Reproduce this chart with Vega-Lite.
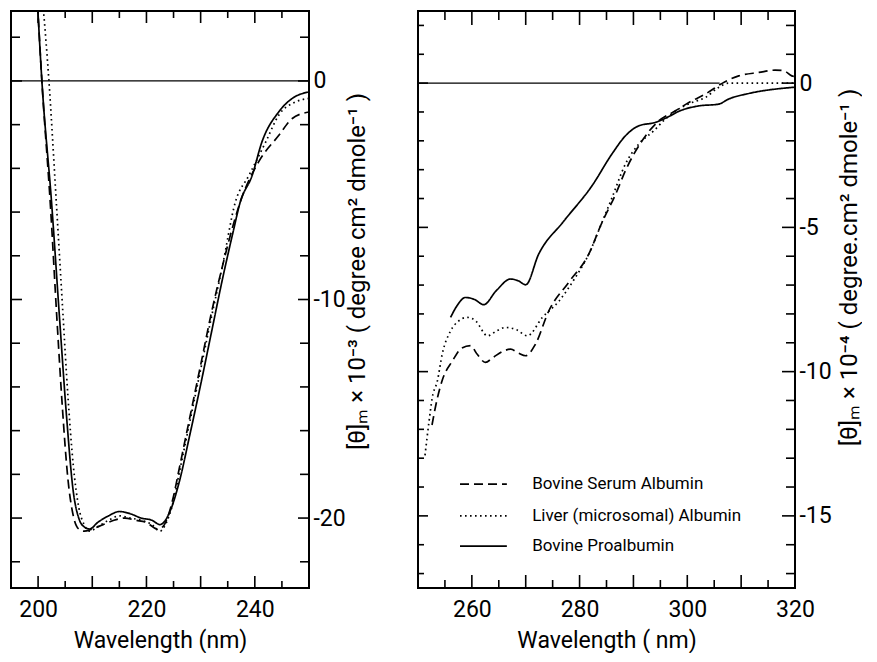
{
  "$schema": "https://vega.github.io/schema/vega-lite/v6.json",
  "padding": {"left": 9, "top": 9, "right": 0, "bottom": 0},
  "background": "white",
  "config": {
    "view": {"stroke": "black", "strokeWidth": 2},
    "font": "Roboto",
    "rule": {"color": "black", "strokeWidth": 1.6},
    "axis": {
      "labelFont": "Roboto", "labelFontSize": 23, "labelColor": "black",
      "ticks": false, "domain": false, "grid": false,
      "titleFont": "Roboto", "titleFontSize": 23, "titleFontWeight": "normal", "titleColor": "black",
      "labelFlush": false, "labelOverlap": false, "labelBound": false
    }
  },
  "datasets": {
    "left": [
      {"series": "Bovine Serum Albumin", "nm": 199.9, "v": 3.5},
      {"series": "Bovine Serum Albumin", "nm": 200.7, "v": 0},
      {"series": "Bovine Serum Albumin", "nm": 202.3, "v": -5.8},
      {"series": "Bovine Serum Albumin", "nm": 203.5, "v": -11.0},
      {"series": "Bovine Serum Albumin", "nm": 204.5, "v": -15.0},
      {"series": "Bovine Serum Albumin", "nm": 205.5, "v": -18.2},
      {"series": "Bovine Serum Albumin", "nm": 206.5, "v": -19.9},
      {"series": "Bovine Serum Albumin", "nm": 207.5, "v": -20.5},
      {"series": "Bovine Serum Albumin", "nm": 208.5, "v": -20.6},
      {"series": "Bovine Serum Albumin", "nm": 210, "v": -20.5},
      {"series": "Bovine Serum Albumin", "nm": 212, "v": -20.3},
      {"series": "Bovine Serum Albumin", "nm": 214, "v": -20.1},
      {"series": "Bovine Serum Albumin", "nm": 216, "v": -20.0},
      {"series": "Bovine Serum Albumin", "nm": 218, "v": -20.1},
      {"series": "Bovine Serum Albumin", "nm": 220, "v": -20.2},
      {"series": "Bovine Serum Albumin", "nm": 222, "v": -20.5},
      {"series": "Bovine Serum Albumin", "nm": 223, "v": -20.4},
      {"series": "Bovine Serum Albumin", "nm": 224, "v": -19.9},
      {"series": "Bovine Serum Albumin", "nm": 225, "v": -19.0},
      {"series": "Bovine Serum Albumin", "nm": 226, "v": -17.8},
      {"series": "Bovine Serum Albumin", "nm": 228, "v": -15.4},
      {"series": "Bovine Serum Albumin", "nm": 230, "v": -13.0},
      {"series": "Bovine Serum Albumin", "nm": 232, "v": -10.6},
      {"series": "Bovine Serum Albumin", "nm": 234, "v": -8.5},
      {"series": "Bovine Serum Albumin", "nm": 236, "v": -6.6},
      {"series": "Bovine Serum Albumin", "nm": 237.3, "v": -5.55},
      {"series": "Bovine Serum Albumin", "nm": 240.7, "v": -3.7},
      {"series": "Bovine Serum Albumin", "nm": 244.4, "v": -2.5},
      {"series": "Bovine Serum Albumin", "nm": 246.85, "v": -1.73},
      {"series": "Bovine Serum Albumin", "nm": 250, "v": -1.42},
      {"series": "Liver (microsomal) Albumin", "nm": 200.9, "v": 3.5},
      {"series": "Liver (microsomal) Albumin", "nm": 202.0, "v": 0},
      {"series": "Liver (microsomal) Albumin", "nm": 203.36, "v": -5.55},
      {"series": "Liver (microsomal) Albumin", "nm": 204.5, "v": -10.3},
      {"series": "Liver (microsomal) Albumin", "nm": 205.5, "v": -14.4},
      {"series": "Liver (microsomal) Albumin", "nm": 206.5, "v": -17.6},
      {"series": "Liver (microsomal) Albumin", "nm": 207.5, "v": -19.5},
      {"series": "Liver (microsomal) Albumin", "nm": 208.5, "v": -20.3},
      {"series": "Liver (microsomal) Albumin", "nm": 209.5, "v": -20.6},
      {"series": "Liver (microsomal) Albumin", "nm": 211, "v": -20.4},
      {"series": "Liver (microsomal) Albumin", "nm": 213, "v": -20.1},
      {"series": "Liver (microsomal) Albumin", "nm": 215, "v": -19.9},
      {"series": "Liver (microsomal) Albumin", "nm": 217, "v": -20.0},
      {"series": "Liver (microsomal) Albumin", "nm": 219, "v": -20.1},
      {"series": "Liver (microsomal) Albumin", "nm": 221, "v": -20.3},
      {"series": "Liver (microsomal) Albumin", "nm": 222.5, "v": -20.6},
      {"series": "Liver (microsomal) Albumin", "nm": 223.5, "v": -20.3},
      {"series": "Liver (microsomal) Albumin", "nm": 225, "v": -19.2},
      {"series": "Liver (microsomal) Albumin", "nm": 226, "v": -18.0},
      {"series": "Liver (microsomal) Albumin", "nm": 228, "v": -15.6},
      {"series": "Liver (microsomal) Albumin", "nm": 230, "v": -13.2},
      {"series": "Liver (microsomal) Albumin", "nm": 232, "v": -10.8},
      {"series": "Liver (microsomal) Albumin", "nm": 234, "v": -8.5},
      {"series": "Liver (microsomal) Albumin", "nm": 236.4, "v": -5.55},
      {"series": "Liver (microsomal) Albumin", "nm": 238.9, "v": -4.33},
      {"series": "Liver (microsomal) Albumin", "nm": 242.0, "v": -2.8},
      {"series": "Liver (microsomal) Albumin", "nm": 244.4, "v": -1.57},
      {"series": "Liver (microsomal) Albumin", "nm": 247.5, "v": -0.96},
      {"series": "Liver (microsomal) Albumin", "nm": 250, "v": -0.8},
      {"series": "Bovine Proalbumin", "nm": 199.9, "v": 3.5},
      {"series": "Bovine Proalbumin", "nm": 200.7, "v": 0},
      {"series": "Bovine Proalbumin", "nm": 202.5, "v": -5.6},
      {"series": "Bovine Proalbumin", "nm": 204, "v": -11.0},
      {"series": "Bovine Proalbumin", "nm": 205.3, "v": -15.5},
      {"series": "Bovine Proalbumin", "nm": 206.5, "v": -18.8},
      {"series": "Bovine Proalbumin", "nm": 207.5, "v": -20.0},
      {"series": "Bovine Proalbumin", "nm": 208.5, "v": -20.4},
      {"series": "Bovine Proalbumin", "nm": 209.5, "v": -20.5},
      {"series": "Bovine Proalbumin", "nm": 211, "v": -20.2},
      {"series": "Bovine Proalbumin", "nm": 213, "v": -19.9},
      {"series": "Bovine Proalbumin", "nm": 215, "v": -19.7},
      {"series": "Bovine Proalbumin", "nm": 217, "v": -19.8},
      {"series": "Bovine Proalbumin", "nm": 219, "v": -20.0},
      {"series": "Bovine Proalbumin", "nm": 221, "v": -20.1},
      {"series": "Bovine Proalbumin", "nm": 222.5, "v": -20.3},
      {"series": "Bovine Proalbumin", "nm": 223.5, "v": -20.1},
      {"series": "Bovine Proalbumin", "nm": 224.5, "v": -19.6},
      {"series": "Bovine Proalbumin", "nm": 226, "v": -18.4},
      {"series": "Bovine Proalbumin", "nm": 228, "v": -16.2},
      {"series": "Bovine Proalbumin", "nm": 230, "v": -13.9},
      {"series": "Bovine Proalbumin", "nm": 232, "v": -11.5},
      {"series": "Bovine Proalbumin", "nm": 234, "v": -9.1},
      {"series": "Bovine Proalbumin", "nm": 236, "v": -6.9},
      {"series": "Bovine Proalbumin", "nm": 237.3, "v": -5.55},
      {"series": "Bovine Proalbumin", "nm": 239.5, "v": -4.33},
      {"series": "Bovine Proalbumin", "nm": 241.3, "v": -2.8},
      {"series": "Bovine Proalbumin", "nm": 244.4, "v": -1.42},
      {"series": "Bovine Proalbumin", "nm": 246.85, "v": -0.81},
      {"series": "Bovine Proalbumin", "nm": 250, "v": -0.5}
    ],
    "right": [
      {"series": "Bovine Serum Albumin", "nm": 252.6, "v": -11.85},
      {"series": "Bovine Serum Albumin", "nm": 253.5, "v": -11.0},
      {"series": "Bovine Serum Albumin", "nm": 254.5, "v": -10.3},
      {"series": "Bovine Serum Albumin", "nm": 256.4, "v": -9.63},
      {"series": "Bovine Serum Albumin", "nm": 258, "v": -9.2},
      {"series": "Bovine Serum Albumin", "nm": 259.75, "v": -9.1},
      {"series": "Bovine Serum Albumin", "nm": 261, "v": -9.4},
      {"series": "Bovine Serum Albumin", "nm": 262.5, "v": -9.68},
      {"series": "Bovine Serum Albumin", "nm": 264, "v": -9.5},
      {"series": "Bovine Serum Albumin", "nm": 265.95, "v": -9.28},
      {"series": "Bovine Serum Albumin", "nm": 267.2, "v": -9.22},
      {"series": "Bovine Serum Albumin", "nm": 268.6, "v": -9.35},
      {"series": "Bovine Serum Albumin", "nm": 270.0, "v": -9.45},
      {"series": "Bovine Serum Albumin", "nm": 271.8, "v": -9.05},
      {"series": "Bovine Serum Albumin", "nm": 274.3, "v": -7.89},
      {"series": "Bovine Serum Albumin", "nm": 278, "v": -6.9},
      {"series": "Bovine Serum Albumin", "nm": 281.7, "v": -5.93},
      {"series": "Bovine Serum Albumin", "nm": 284, "v": -4.9},
      {"series": "Bovine Serum Albumin", "nm": 286.7, "v": -3.85},
      {"series": "Bovine Serum Albumin", "nm": 288.5, "v": -3.04},
      {"series": "Bovine Serum Albumin", "nm": 291.6, "v": -2.0},
      {"series": "Bovine Serum Albumin", "nm": 294.7, "v": -1.31},
      {"series": "Bovine Serum Albumin", "nm": 297.8, "v": -0.96},
      {"series": "Bovine Serum Albumin", "nm": 300.3, "v": -0.67},
      {"series": "Bovine Serum Albumin", "nm": 303.35, "v": -0.38},
      {"series": "Bovine Serum Albumin", "nm": 307.1, "v": 0.06},
      {"series": "Bovine Serum Albumin", "nm": 309.55, "v": 0.25},
      {"series": "Bovine Serum Albumin", "nm": 313.3, "v": 0.37},
      {"series": "Bovine Serum Albumin", "nm": 316.3, "v": 0.45},
      {"series": "Bovine Serum Albumin", "nm": 317.9, "v": 0.43},
      {"series": "Bovine Serum Albumin", "nm": 319.4, "v": 0.25},
      {"series": "Bovine Serum Albumin", "nm": 320, "v": 0.22},
      {"series": "Liver (microsomal) Albumin", "nm": 251.3, "v": -12.9},
      {"series": "Liver (microsomal) Albumin", "nm": 252.0, "v": -11.8},
      {"series": "Liver (microsomal) Albumin", "nm": 252.65, "v": -10.9},
      {"series": "Liver (microsomal) Albumin", "nm": 253.6, "v": -10.32},
      {"series": "Liver (microsomal) Albumin", "nm": 254.5, "v": -9.39},
      {"series": "Liver (microsomal) Albumin", "nm": 256.05, "v": -8.59},
      {"series": "Liver (microsomal) Albumin", "nm": 257.5, "v": -8.25},
      {"series": "Liver (microsomal) Albumin", "nm": 259.15, "v": -8.12},
      {"series": "Liver (microsomal) Albumin", "nm": 260.7, "v": -8.24},
      {"series": "Liver (microsomal) Albumin", "nm": 262.9, "v": -8.76},
      {"series": "Liver (microsomal) Albumin", "nm": 264.5, "v": -8.6},
      {"series": "Liver (microsomal) Albumin", "nm": 266.25, "v": -8.47},
      {"series": "Liver (microsomal) Albumin", "nm": 268.3, "v": -8.55},
      {"series": "Liver (microsomal) Albumin", "nm": 270.3, "v": -8.76},
      {"series": "Liver (microsomal) Albumin", "nm": 273.1, "v": -8.12},
      {"series": "Liver (microsomal) Albumin", "nm": 276.2, "v": -7.55},
      {"series": "Liver (microsomal) Albumin", "nm": 279, "v": -6.8},
      {"series": "Liver (microsomal) Albumin", "nm": 281.7, "v": -5.93},
      {"series": "Liver (microsomal) Albumin", "nm": 284, "v": -4.9},
      {"series": "Liver (microsomal) Albumin", "nm": 286.05, "v": -3.96},
      {"series": "Liver (microsomal) Albumin", "nm": 288.5, "v": -2.81},
      {"series": "Liver (microsomal) Albumin", "nm": 291.0, "v": -2.11},
      {"series": "Liver (microsomal) Albumin", "nm": 293.8, "v": -1.65},
      {"series": "Liver (microsomal) Albumin", "nm": 295.9, "v": -1.25},
      {"series": "Liver (microsomal) Albumin", "nm": 298.4, "v": -0.9},
      {"series": "Liver (microsomal) Albumin", "nm": 300.9, "v": -0.67},
      {"series": "Liver (microsomal) Albumin", "nm": 303.35, "v": -0.5},
      {"series": "Liver (microsomal) Albumin", "nm": 305.8, "v": -0.15},
      {"series": "Liver (microsomal) Albumin", "nm": 307.7, "v": 0},
      {"series": "Liver (microsomal) Albumin", "nm": 320, "v": 0},
      {"series": "Bovine Proalbumin", "nm": 256.05, "v": -8.12},
      {"series": "Bovine Proalbumin", "nm": 257.3, "v": -7.7},
      {"series": "Bovine Proalbumin", "nm": 258.8, "v": -7.43},
      {"series": "Bovine Proalbumin", "nm": 260.5, "v": -7.5},
      {"series": "Bovine Proalbumin", "nm": 262.2, "v": -7.68},
      {"series": "Bovine Proalbumin", "nm": 264.5, "v": -7.2},
      {"series": "Bovine Proalbumin", "nm": 267.2, "v": -6.79},
      {"series": "Bovine Proalbumin", "nm": 268.6, "v": -6.85},
      {"series": "Bovine Proalbumin", "nm": 270.0, "v": -6.99},
      {"series": "Bovine Proalbumin", "nm": 272.4, "v": -5.93},
      {"series": "Bovine Proalbumin", "nm": 277, "v": -4.8},
      {"series": "Bovine Proalbumin", "nm": 282.3, "v": -3.56},
      {"series": "Bovine Proalbumin", "nm": 286.0, "v": -2.46},
      {"series": "Bovine Proalbumin", "nm": 288.5, "v": -1.83},
      {"series": "Bovine Proalbumin", "nm": 291.0, "v": -1.48},
      {"series": "Bovine Proalbumin", "nm": 294.1, "v": -1.36},
      {"series": "Bovine Proalbumin", "nm": 296.25, "v": -1.19},
      {"series": "Bovine Proalbumin", "nm": 298.4, "v": -0.98},
      {"series": "Bovine Proalbumin", "nm": 302.1, "v": -0.79},
      {"series": "Bovine Proalbumin", "nm": 305.8, "v": -0.73},
      {"series": "Bovine Proalbumin", "nm": 307.7, "v": -0.55},
      {"series": "Bovine Proalbumin", "nm": 311.4, "v": -0.36},
      {"series": "Bovine Proalbumin", "nm": 319.4, "v": -0.15},
      {"series": "Bovine Proalbumin", "nm": 320, "v": -0.14}
    ],
    "zeroL": [{"a": 195, "b": 250, "v": 0}],
    "zeroR": [{"a": 250, "b": 306, "v": 0}],
    "legend": [
      {"series": "Bovine Serum Albumin", "a": 257.8, "b": 266.5, "t": 271.2, "v": -13.9},
      {"series": "Liver (microsomal) Albumin", "a": 257.8, "b": 266.5, "t": 271.2, "v": -15.0},
      {"series": "Bovine Proalbumin", "a": 257.8, "b": 266.5, "t": 271.2, "v": -16.05}
    ],
    "tickLx": [
      {"t": 200, "k": "maj"}, {"t": 205, "k": "min"}, {"t": 210, "k": "maj"},
      {"t": 215, "k": "min"}, {"t": 220, "k": "maj"}, {"t": 225, "k": "min"}, {"t": 230, "k": "maj"},
      {"t": 235, "k": "min"}, {"t": 240, "k": "maj"}, {"t": 245, "k": "min"}
    ],
    "tickLy": [
      {"t": -22, "k": "min"}, {"t": -20, "k": "maj"}, {"t": -18, "k": "min"}, {"t": -16, "k": "min"},
      {"t": -14, "k": "min"}, {"t": -12, "k": "min"}, {"t": -10, "k": "maj"}, {"t": -8, "k": "min"},
      {"t": -6, "k": "min"}, {"t": -4, "k": "min"}, {"t": -2, "k": "min"}, {"t": 0, "k": "maj"},
      {"t": 2, "k": "min"}
    ],
    "tickRx": [
      {"t": 255, "k": "min"}, {"t": 260, "k": "maj"}, {"t": 265, "k": "min"}, {"t": 270, "k": "maj"},
      {"t": 275, "k": "min"}, {"t": 280, "k": "maj"}, {"t": 285, "k": "min"}, {"t": 290, "k": "maj"},
      {"t": 295, "k": "min"}, {"t": 300, "k": "maj"}, {"t": 305, "k": "min"}, {"t": 310, "k": "maj"},
      {"t": 315, "k": "min"}
    ],
    "tickRy": [
      {"t": -17, "k": "min"}, {"t": -16, "k": "min"}, {"t": -15, "k": "maj"}, {"t": -14, "k": "min"},
      {"t": -13, "k": "min"}, {"t": -12, "k": "min"}, {"t": -11, "k": "min"}, {"t": -10, "k": "maj"},
      {"t": -9, "k": "min"}, {"t": -8, "k": "min"}, {"t": -7, "k": "min"}, {"t": -6, "k": "min"},
      {"t": -5, "k": "maj"}, {"t": -4, "k": "min"}, {"t": -3, "k": "min"}, {"t": -2, "k": "min"},
      {"t": -1, "k": "min"}, {"t": 0, "k": "maj"}, {"t": 1, "k": "min"}, {"t": 2, "k": "min"}
    ]
  },
  "spacing": 109,
  "bounds": "flush",
  "hconcat": [
    {
      "width": 298,
      "height": 577,
      "layer": [
        {
          "data": {"name": "left"},
          "mark": {"type": "line", "clip": true, "color": "black", "strokeWidth": 1.7, "interpolate": "monotone"},
          "encoding": {
            "x": {"field": "nm", "type": "quantitative", "scale": {"domain": [195, 250], "nice": false, "zero": false},
              "axis": {"orient": "bottom", "values": [200, 220, 240], "title": "Wavelength (nm)",
                "labelPadding": 10, "titlePadding": 8}},
            "y": {"field": "v", "type": "quantitative", "scale": {"domain": [-23.2, 3.2], "nice": false, "zero": false},
              "axis": {"orient": "right", "values": [-20, -10, 0],
                "labelExpr": "'' + datum.value",
                "title": "[θ]ₘ × 10⁻³ ( degree  cm²  dmole⁻¹ )", "titleFontSize": 24,
                "titleAngle": 270, "titleX": 48, "titleY": 260, "titleAlign": "center", "titleBaseline": "middle",
                "labelPadding": 4}},
            "strokeDash": {"field": "series", "type": "nominal",
              "scale": {"domain": ["Bovine Serum Albumin", "Liver (microsomal) Albumin", "Bovine Proalbumin"], "range": [[9, 5], [1.6, 3.4], [1, 0]]},
              "legend": null}
          }
        },
        {
          "data": {"name": "zeroL"},
          "mark": {"type": "rule", "strokeWidth": 1.2},
          "encoding": {
            "x": {"field": "a", "type": "quantitative", "scale": {"domain": [195, 250], "nice": false, "zero": false}},
            "x2": {"field": "b"},
            "y": {"field": "v", "type": "quantitative", "scale": {"domain": [-23.2, 3.2], "nice": false, "zero": false}}
          }
        },
        {
          "data": {"name": "tickLx"}, "transform": [{"filter": "datum.k === 'maj'"}],
          "mark": {"type": "rule", "y2Offset": -12},
          "encoding": {
            "x": {"field": "t", "type": "quantitative", "scale": {"domain": [195, 250], "nice": false, "zero": false}},
            "y": {"datum": -23.2, "type": "quantitative", "scale": {"domain": [-23.2, 3.2], "nice": false, "zero": false}},
            "y2": {"datum": -23.2}
          }
        },
        {
          "data": {"name": "tickLx"}, "transform": [{"filter": "datum.k === 'min'"}],
          "mark": {"type": "rule", "y2Offset": -7},
          "encoding": {
            "x": {"field": "t", "type": "quantitative", "scale": {"domain": [195, 250], "nice": false, "zero": false}},
            "y": {"datum": -23.2, "type": "quantitative", "scale": {"domain": [-23.2, 3.2], "nice": false, "zero": false}},
            "y2": {"datum": -23.2}
          }
        },
        {
          "data": {"name": "tickLx"}, "transform": [{"filter": "datum.k === 'maj'"}],
          "mark": {"type": "rule", "y2Offset": 12},
          "encoding": {
            "x": {"field": "t", "type": "quantitative", "scale": {"domain": [195, 250], "nice": false, "zero": false}},
            "y": {"datum": 3.2, "type": "quantitative", "scale": {"domain": [-23.2, 3.2], "nice": false, "zero": false}},
            "y2": {"datum": 3.2}
          }
        },
        {
          "data": {"name": "tickLx"}, "transform": [{"filter": "datum.k === 'min'"}],
          "mark": {"type": "rule", "y2Offset": 7},
          "encoding": {
            "x": {"field": "t", "type": "quantitative", "scale": {"domain": [195, 250], "nice": false, "zero": false}},
            "y": {"datum": 3.2, "type": "quantitative", "scale": {"domain": [-23.2, 3.2], "nice": false, "zero": false}},
            "y2": {"datum": 3.2}
          }
        },
        {
          "data": {"name": "tickLy"}, "transform": [{"filter": "datum.k === 'maj'"}],
          "mark": {"type": "rule", "x2Offset": 11},
          "encoding": {
            "y": {"field": "t", "type": "quantitative", "scale": {"domain": [-23.2, 3.2], "nice": false, "zero": false}},
            "x": {"datum": 195, "type": "quantitative", "scale": {"domain": [195, 250], "nice": false, "zero": false}},
            "x2": {"datum": 195}
          }
        },
        {
          "data": {"name": "tickLy"}, "transform": [{"filter": "datum.k === 'min'"}],
          "mark": {"type": "rule", "x2Offset": 9},
          "encoding": {
            "y": {"field": "t", "type": "quantitative", "scale": {"domain": [-23.2, 3.2], "nice": false, "zero": false}},
            "x": {"datum": 195, "type": "quantitative", "scale": {"domain": [195, 250], "nice": false, "zero": false}},
            "x2": {"datum": 195}
          }
        },
        {
          "data": {"name": "tickLy"}, "transform": [{"filter": "datum.k === 'maj'"}],
          "mark": {"type": "rule", "x2Offset": -11},
          "encoding": {
            "y": {"field": "t", "type": "quantitative", "scale": {"domain": [-23.2, 3.2], "nice": false, "zero": false}},
            "x": {"datum": 250, "type": "quantitative", "scale": {"domain": [195, 250], "nice": false, "zero": false}},
            "x2": {"datum": 250}
          }
        },
        {
          "data": {"name": "tickLy"}, "transform": [{"filter": "datum.k === 'min'"}],
          "mark": {"type": "rule", "x2Offset": -9},
          "encoding": {
            "y": {"field": "t", "type": "quantitative", "scale": {"domain": [-23.2, 3.2], "nice": false, "zero": false}},
            "x": {"datum": 250, "type": "quantitative", "scale": {"domain": [195, 250], "nice": false, "zero": false}},
            "x2": {"datum": 250}
          }
        }
      ]
    },
    {
      "width": 377,
      "height": 577,
      "layer": [
        {
          "data": {"name": "right"},
          "mark": {"type": "line", "clip": true, "color": "black", "strokeWidth": 1.7, "interpolate": "monotone"},
          "encoding": {
            "x": {"field": "nm", "type": "quantitative", "scale": {"domain": [250, 320], "nice": false, "zero": false},
              "axis": {"orient": "bottom", "values": [260, 280, 300, 320], "title": "Wavelength ( nm)",
                "labelPadding": 10, "titlePadding": 8}},
            "y": {"field": "v", "type": "quantitative", "scale": {"domain": [-17.5, 2.5], "nice": false, "zero": false},
              "axis": {"orient": "right", "values": [-15, -10, -5, 0],
                "labelExpr": "'' + datum.value",
                "title": "[θ]ₘ × 10⁻⁴ ( degree.cm²  dmole⁻¹ )", "titleFontSize": 24,
                "titleAngle": 270, "titleX": 54, "titleY": 256, "titleAlign": "center", "titleBaseline": "middle",
                "labelPadding": 4}},
            "strokeDash": {"field": "series", "type": "nominal",
              "scale": {"domain": ["Bovine Serum Albumin", "Liver (microsomal) Albumin", "Bovine Proalbumin"], "range": [[9, 5], [1.6, 3.4], [1, 0]]},
              "legend": null}
          }
        },
        {
          "data": {"name": "zeroR"},
          "mark": {"type": "rule", "strokeWidth": 1.2},
          "encoding": {
            "x": {"field": "a", "type": "quantitative", "scale": {"domain": [250, 320], "nice": false, "zero": false}},
            "x2": {"field": "b"},
            "y": {"field": "v", "type": "quantitative", "scale": {"domain": [-17.5, 2.5], "nice": false, "zero": false}}
          }
        },
        {
          "data": {"name": "tickRx"}, "transform": [{"filter": "datum.k === 'maj'"}],
          "mark": {"type": "rule", "y2Offset": -13},
          "encoding": {
            "x": {"field": "t", "type": "quantitative", "scale": {"domain": [250, 320], "nice": false, "zero": false}},
            "y": {"datum": -17.5, "type": "quantitative", "scale": {"domain": [-17.5, 2.5], "nice": false, "zero": false}},
            "y2": {"datum": -17.5}
          }
        },
        {
          "data": {"name": "tickRx"}, "transform": [{"filter": "datum.k === 'min'"}],
          "mark": {"type": "rule", "y2Offset": -8},
          "encoding": {
            "x": {"field": "t", "type": "quantitative", "scale": {"domain": [250, 320], "nice": false, "zero": false}},
            "y": {"datum": -17.5, "type": "quantitative", "scale": {"domain": [-17.5, 2.5], "nice": false, "zero": false}},
            "y2": {"datum": -17.5}
          }
        },
        {
          "data": {"name": "tickRx"}, "transform": [{"filter": "datum.k === 'maj'"}],
          "mark": {"type": "rule", "y2Offset": 14},
          "encoding": {
            "x": {"field": "t", "type": "quantitative", "scale": {"domain": [250, 320], "nice": false, "zero": false}},
            "y": {"datum": 2.5, "type": "quantitative", "scale": {"domain": [-17.5, 2.5], "nice": false, "zero": false}},
            "y2": {"datum": 2.5}
          }
        },
        {
          "data": {"name": "tickRx"}, "transform": [{"filter": "datum.k === 'min'"}],
          "mark": {"type": "rule", "y2Offset": 9},
          "encoding": {
            "x": {"field": "t", "type": "quantitative", "scale": {"domain": [250, 320], "nice": false, "zero": false}},
            "y": {"datum": 2.5, "type": "quantitative", "scale": {"domain": [-17.5, 2.5], "nice": false, "zero": false}},
            "y2": {"datum": 2.5}
          }
        },
        {
          "data": {"name": "tickRy"}, "transform": [{"filter": "datum.k === 'maj'"}],
          "mark": {"type": "rule", "x2Offset": 10},
          "encoding": {
            "y": {"field": "t", "type": "quantitative", "scale": {"domain": [-17.5, 2.5], "nice": false, "zero": false}},
            "x": {"datum": 250, "type": "quantitative", "scale": {"domain": [250, 320], "nice": false, "zero": false}},
            "x2": {"datum": 250}
          }
        },
        {
          "data": {"name": "tickRy"}, "transform": [{"filter": "datum.k === 'min'"}],
          "mark": {"type": "rule", "x2Offset": 6},
          "encoding": {
            "y": {"field": "t", "type": "quantitative", "scale": {"domain": [-17.5, 2.5], "nice": false, "zero": false}},
            "x": {"datum": 250, "type": "quantitative", "scale": {"domain": [250, 320], "nice": false, "zero": false}},
            "x2": {"datum": 250}
          }
        },
        {
          "data": {"name": "tickRy"}, "transform": [{"filter": "datum.k === 'maj'"}],
          "mark": {"type": "rule", "x2Offset": -13},
          "encoding": {
            "y": {"field": "t", "type": "quantitative", "scale": {"domain": [-17.5, 2.5], "nice": false, "zero": false}},
            "x": {"datum": 320, "type": "quantitative", "scale": {"domain": [250, 320], "nice": false, "zero": false}},
            "x2": {"datum": 320}
          }
        },
        {
          "data": {"name": "tickRy"}, "transform": [{"filter": "datum.k === 'min'"}],
          "mark": {"type": "rule", "x2Offset": -9},
          "encoding": {
            "y": {"field": "t", "type": "quantitative", "scale": {"domain": [-17.5, 2.5], "nice": false, "zero": false}},
            "x": {"datum": 320, "type": "quantitative", "scale": {"domain": [250, 320], "nice": false, "zero": false}},
            "x2": {"datum": 320}
          }
        },
        {
          "data": {"name": "legend"},
          "mark": {"type": "rule", "strokeWidth": 1.7},
          "encoding": {
            "x": {"field": "a", "type": "quantitative", "scale": {"domain": [250, 320], "nice": false, "zero": false}},
            "x2": {"field": "b"},
            "y": {"field": "v", "type": "quantitative", "scale": {"domain": [-17.5, 2.5], "nice": false, "zero": false}},
            "strokeDash": {"field": "series", "type": "nominal",
              "scale": {"domain": ["Bovine Serum Albumin", "Liver (microsomal) Albumin", "Bovine Proalbumin"], "range": [[9, 5], [1.6, 3.4], [1, 0]]},
              "legend": null}
          }
        },
        {
          "data": {"name": "legend"},
          "mark": {"type": "text", "align": "left", "baseline": "middle", "font": "Roboto", "fontSize": 17, "color": "black"},
          "encoding": {
            "x": {"field": "t", "type": "quantitative", "scale": {"domain": [250, 320], "nice": false, "zero": false}},
            "y": {"field": "v", "type": "quantitative", "scale": {"domain": [-17.5, 2.5], "nice": false, "zero": false}},
            "text": {"field": "series"}
          }
        }
      ]
    }
  ]
}
